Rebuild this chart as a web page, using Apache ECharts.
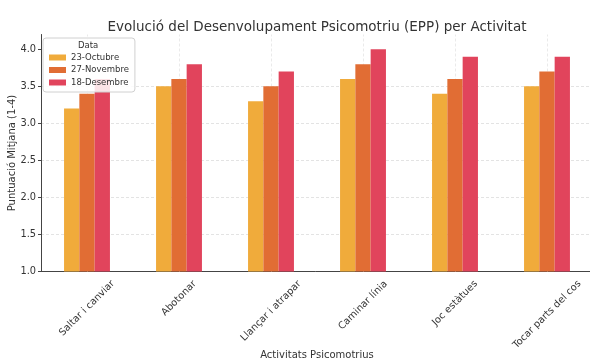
<!DOCTYPE html>
<html>
<head>
<meta charset="utf-8">
<script src="https://cdn.jsdelivr.net/npm/echarts@6/dist/echarts.min.js"></script>
<style>
html,body{margin:0;padding:0;background:#fff;}
#chart{width:590px;height:358px;}
</style>
</head>
<body>
<div id="chart"></div>
<script>
const categories = ['Saltar i canviar', 'Abotonar', 'Llançar i atrapar', 'Caminar línia', 'Joc estàtues', 'Tocar parts del cos'];
const seriesNames = ['23-Octubre', '27-Novembre', '18-Desembre'];
const octubre = [3.2, 3.5, 3.3, 3.6, 3.4, 3.5];
const novembre = [3.4, 3.6, 3.5, 3.8, 3.6, 3.7];
const desembre = [3.6, 3.8, 3.7, 4.0, 3.9, 3.9];
const yTicks = [1.0, 1.5, 2.0, 2.5, 3.0, 3.5, 4.0];
const colors = ['#F0AB3B', '#E16D34', '#E1445C'];

const FONT = '"DejaVu Sans", sans-serif';
const labelSize = 9.8;
const ctx = document.createElement('canvas').getContext('2d');
ctx.font = labelSize + 'px ' + FONT;
const rich = {};
categories.forEach((c, i) => {
  const w = ctx.measureText(c).width;
  const p = Math.round((w + 11) / 2);
  rich['l' + i] = { fontSize: labelSize, fontFamily: FONT, color: '#333', padding: [p, p, 0, 0] };
});

const chart = echarts.init(document.getElementById('chart'), null, { renderer: 'canvas' });
const data = [octubre, novembre, desembre];
const series = seriesNames.map((n, i) => ({
  name: n,
  type: 'bar',
  data: data[i],
  barWidth: 15.3,
  barGap: '0%',
  z: 3,
  itemStyle: { color: colors[i] },
  emphasis: { disabled: true }
}));
series.push({
  name: 'grid',
  type: 'line',
  data: [],
  z: 1,
  silent: true,
  markLine: {
    silent: true,
    symbol: 'none',
    z: 1,
    label: { show: false },
    lineStyle: { type: [3, 2], color: '#e4e4e4', width: 0.8 },
    emphasis: { disabled: true },
    data: categories.map(c => ({ xAxis: c }))
  }
});

chart.setOption({
  animation: false,
  backgroundColor: '#fff',
  title: {
    text: 'Evolució del Desenvolupament Psicomotriu (EPP) per Activitat',
    left: 312,
    top: 15,
    textAlign: 'center',
    textStyle: { fontSize: 13.5, fontWeight: 'normal', color: '#333', fontFamily: FONT }
  },
  legend: {
    data: seriesNames,
    orient: 'vertical',
    left: 43,
    top: 38,
    padding: [15, 6, 5, 6],
    itemWidth: 17,
    itemHeight: 6,
    itemGap: 3.5,
    icon: 'rect',
    z: 10,
    backgroundColor: 'rgba(255,255,255,0.85)',
    borderColor: '#d0d0d0',
    borderWidth: 1,
    borderRadius: 3,
    textStyle: { fontSize: 8.5, color: '#333', fontFamily: FONT }
  },
  graphic: [{
    type: 'text',
    left: 78,
    top: 41,
    z: 100,
    zlevel: 1,
    style: { text: 'Data', fontSize: 8.5, fill: '#333', fontFamily: FONT }
  }],
  grid: { left: 41, right: -3, top: 34.5, bottom: 86.5, containLabel: false, outerBoundsMode: 'none' },
  xAxis: {
    type: 'category',
    data: categories,
    name: 'Activitats Psicomotrius',
    nameLocation: 'middle',
    nameGap: 79,
    nameMoveOverlap: false,
    nameTextStyle: { fontSize: 10, color: '#333', fontFamily: FONT },
    axisLine: { lineStyle: { color: '#444', width: 1 } },
    axisTick: { alignWithLabel: true, inside: true, length: 3, lineStyle: { color: '#444' } },
    axisLabel: {
      rotate: 45,
      interval: 0,
      margin: 7,
      align: 'center',
      verticalAlign: 'middle',
      formatter: (v, i) => '{l' + i + '|' + v + '}',
      rich: rich
    },
    splitLine: { show: false }
  },
  yAxis: {
    type: 'value',
    min: 1,
    max: 4.2,
    interval: 0.5,
    name: 'Puntuació Mitjana (1-4)',
    nameLocation: 'middle',
    nameGap: 24,
    nameMoveOverlap: false,
    nameTextStyle: { fontSize: 10, color: '#333', fontFamily: FONT },
    axisLine: { show: true, lineStyle: { color: '#444', width: 1 } },
    axisTick: { show: true, length: 3, lineStyle: { color: '#444' }, customValues: yTicks },
    axisLabel: {
      fontSize: labelSize,
      color: '#333',
      fontFamily: FONT,
      margin: 5,
      customValues: yTicks,
      formatter: v => (Math.abs(v - 4.2) < 1e-6 ? '' : v.toFixed(1))
    },
    splitLine: { show: true, showMinLine: false, showMaxLine: false, lineStyle: { type: [3, 2], color: '#dcdcdc', width: 0.8 } }
  },
  series: series
});
</script>
</body>
</html>
